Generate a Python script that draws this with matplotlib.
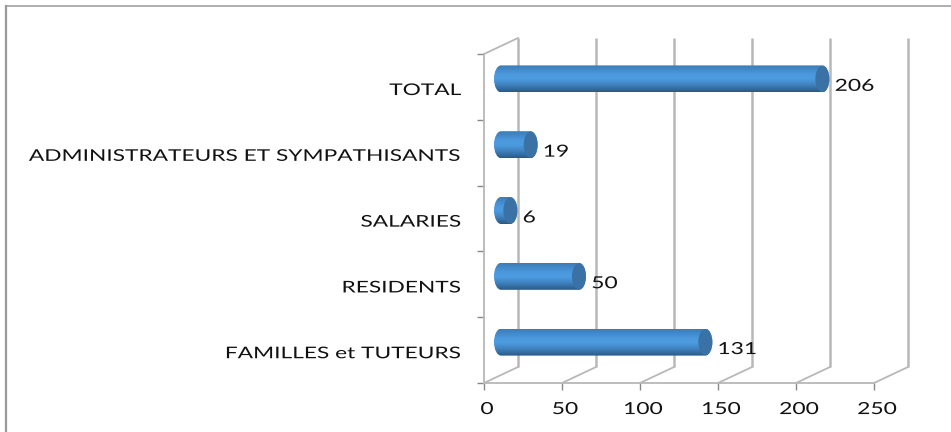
import numpy as np
import matplotlib
matplotlib.use('Agg')
import matplotlib.pyplot as plt
from matplotlib.patches import Ellipse, PathPatch
from matplotlib.path import Path
from matplotlib.patheffects import AbstractPathEffect
from matplotlib.transforms import Affine2D
from matplotlib.colors import LinearSegmentedColormap
from matplotlib.lines import Line2D

categories = ['FAMILLES et TUTEURS', 'RESIDENTS', 'SALARIES',
              'ADMINISTRATEURS ET SYMPATHISANTS', 'TOTAL']
values = [131, 50, 6, 19, 206]
x_ticks = [0, 50, 100, 150, 200, 250]

W, H = 951, 432
GRID = '#b8b8b8'
plt.rcParams['font.family'] = ['Lato', 'DejaVu Sans']


class Stretch(AbstractPathEffect):
    # the original picture was resized, so its text is wider than it is tall
    def __init__(self, sx, anchor='left', shift=0):
        super().__init__()
        self.sx = sx
        self.anchor = anchor
        self.shift = shift

    def draw_path(self, renderer, gc, tpath, affine, rgbFace=None):
        ext = tpath.get_extents(affine)
        a = {'left': ext.x0, 'right': ext.x1, 'center': (ext.x0 + ext.x1) / 2}[self.anchor]
        t = Affine2D().translate(-a, 0).scale(self.sx, 1).translate(a + self.shift, 0)
        renderer.draw_path(gc, tpath, affine + t, rgbFace)


fig = plt.figure(figsize=(W / 100, H / 100), dpi=100)

# front plane of the fake 3D box, placed in pixels
ax = fig.add_axes([484 / W, 1 - 383 / H, 390 / W, 329 / H])
ax.set_xlim(0, 250)
ax.set_ylim(0, len(categories))
ax.patch.set_visible(False)

# depth of the box in data units
depth_x = 34 / (390 / 250)
depth_y = 16 / (329 / len(categories))

for s in ['top', 'right']:
    ax.spines[s].set_visible(False)
for s in ['left', 'bottom']:
    ax.spines[s].set_color(GRID)
    ax.spines[s].set_linewidth(1.3)

ax.set_yticks(np.arange(len(categories) + 1))
ax.set_yticklabels([])
# labels sit a touch below the middle of each band
ax.set_yticks(np.arange(len(categories)) + 0.46, minor=True)
ylabels = ax.set_yticklabels(categories, minor=True, fontsize=11.6, color='#111111')
for lab in ylabels:
    lab.set_path_effects([Stretch(1.41, 'right')])
ax.tick_params(axis='y', which='minor', length=0, pad=16.5)
ax.tick_params(axis='y', which='major', length=5, color='#888888', width=1)
ax.set_xticks(x_ticks)
xlabels = ax.set_xticklabels(x_ticks, fontsize=12, color='#111111')
for lab in xlabels:
    lab.set_path_effects([Stretch(1.37, 'center', shift=3)])
ax.tick_params(axis='x', length=5, color='#888888', width=1, pad=8)

# back wall lines and floor diagonals
for t in x_ticks:
    ax.plot([t + depth_x, t + depth_x], [depth_y, len(categories) + depth_y],
            color=GRID, lw=1.8, clip_on=False, zorder=1, solid_capstyle='butt')
    ax.plot([t, t + depth_x], [0, depth_y], color=GRID, lw=1.3, clip_on=False, zorder=1)
ax.plot([0, depth_x], [len(categories), len(categories) + depth_y],
        color=GRID, lw=1.3, clip_on=False, zorder=1)

cmap = LinearSegmentedColormap.from_list('bar', [
    (0.0, '#3c7cb6'), (0.3, '#4a96da'), (0.5, '#4d9de2'),
    (0.75, '#3f80bd'), (1.0, '#2a5a85')])
grad = np.linspace(0, 1, 64).reshape(-1, 1)

cap_w = 7 / (390 / 250)
half_h = 13.5 / (329 / len(categories))

for i, (name, v) in enumerate(zip(categories, values)):
    x0 = depth_x / 2
    x1 = x0 + v
    yc = i + 0.5 + depth_y / 2
    # capsule outline with elliptical ends
    k = 0.5523
    verts = [(x0, yc + half_h), (x1, yc + half_h),
             (x1 + k * cap_w, yc + half_h), (x1 + cap_w, yc + k * half_h), (x1 + cap_w, yc),
             (x1 + cap_w, yc - k * half_h), (x1 + k * cap_w, yc - half_h), (x1, yc - half_h),
             (x0, yc - half_h),
             (x0 - k * cap_w, yc - half_h), (x0 - cap_w, yc - k * half_h), (x0 - cap_w, yc),
             (x0 - cap_w, yc + k * half_h), (x0 - k * cap_w, yc + half_h), (x0, yc + half_h),
             (x0, yc + half_h)]
    codes = [Path.MOVETO, Path.LINETO,
             Path.CURVE4, Path.CURVE4, Path.CURVE4,
             Path.CURVE4, Path.CURVE4, Path.CURVE4,
             Path.LINETO,
             Path.CURVE4, Path.CURVE4, Path.CURVE4,
             Path.CURVE4, Path.CURVE4, Path.CURVE4,
             Path.CLOSEPOLY]
    outline = PathPatch(Path(verts, codes), transform=ax.transData, fc='none', ec='none')
    ax.add_patch(outline)
    im = ax.imshow(grad, extent=(x0 - cap_w, x1 + cap_w, yc - half_h, yc + half_h),
                   cmap=cmap, aspect='auto', origin='upper', zorder=3, clip_on=True)
    im.set_clip_path(outline)
    ax.add_patch(Ellipse((x1, yc), 2 * cap_w, 2 * half_h * 0.97, fc='#3a72a6', ec='none',
                         zorder=4, clip_on=False))
    ann = ax.annotate(str(v), xy=(x1 + cap_w, yc), xytext=(4, -5), textcoords='offset points',
                      ha='left', va='center', fontsize=12,
                      color='#111111', annotation_clip=False, zorder=5)
    ann.set_path_effects([Stretch(1.37, 'left')])

ax.set_xlim(0, 250)
ax.set_ylim(0, len(categories))

# chart area border, only top and left fall inside the crop
fig.add_artist(Line2D([6 / W, 6 / W], [0, 1 - 6 / H], color='#9a9a9a', lw=1.6))
fig.add_artist(Line2D([6 / W, 1], [1 - 6 / H, 1 - 6 / H], color='#9a9a9a', lw=1.1))

fig.savefig('out.png', dpi=100)
plt.close()
